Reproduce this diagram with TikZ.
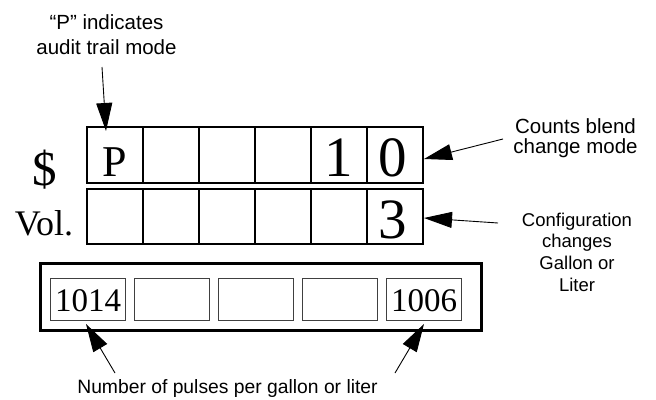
\documentclass[tikz,border=0pt]{standalone}
\usepackage{fontspec}
\setmainfont{Liberation Serif}
\newfontfamily\labelfont{Liberation Sans}
\usetikzlibrary{calc, arrows.meta}
\tikzset{
  cell/.style={draw, line width=1.2pt, minimum width=56pt, minimum height=56pt, inner sep=0pt},
  pulsebox/.style={draw=black!75, line width=0.8pt, minimum width=74.5pt, minimum height=42pt, inner sep=0pt},
  digit/.style={anchor=base, inner sep=0pt, font=\fontsize{#1}{#1}\selectfont},
  note/.style 2 args={font=\labelfont\fontsize{#1}{#2}\selectfont, align=center, inner sep=0pt},
  pointer/.style={-{Triangle[length=28pt,width=16pt]}, line width=0.9pt},
}

\begin{document}
\begin{tikzpicture}[x=1pt,y=-1pt]
            \useasboundingbox (0,0) rectangle (656,399);
            % display rows
            \node[cell] (c11) at (115,155) {};
            \node[cell] (c12) at (171,155) {};
            \node[cell] (c13) at (227,155) {};
            \node[cell] (c14) at (283,155) {};
            \node[cell] (c15) at (339,155) {};
            \node[cell] (c16) at (395,155) {};
            \node[cell, minimum height=55pt] (c21) at (115,216.5) {};
            \node[cell, minimum height=55pt] (c22) at (171,216.5) {};
            \node[cell, minimum height=55pt] (c23) at (227,216.5) {};
            \node[cell, minimum height=55pt] (c24) at (283,216.5) {};
            \node[cell, minimum height=55pt] (c25) at (339,216.5) {};
            \node[cell, minimum height=55pt] (c26) at (395,216.5) {};
            \node[digit=49] (dollar) at (45,185) {\$};
            \node[digit=36] (vol) at (44,235) {Vol.};
            \node[digit=44] (pchar) at (115,176) {P};
            \node[digit=57] (one) at (339,176.5) {1};
            \node[digit=57] (zero) at (393,176.5) {0};
            \node[digit=57] (three) at (393,238) {3};

            % pulse counter
            \node[draw, line width=3pt, minimum width=441pt, minimum height=67pt] (frame) at (260.5,296.5) {};
            \node[pulsebox] (p1) at (88,299) {};
            \node[pulsebox] (p2) at (172,299) {};
            \node[pulsebox] (p3) at (256,299) {};
            \node[pulsebox] (p4) at (340,299) {};
            \node[pulsebox] (p5) at (424,299) {};
            \node[digit=33] (lpulse) at (88,311) {1014};
            \node[digit=33] (rpulse) at (424,311) {1006};

            % notes
            \node[note={20.5}{25}, anchor=north] (audit) at (106.5,14) {“P” indicates\\audit trail mode};
            \node[note={20.5}{20.5}, anchor=north] (blend) at (575.5,118) {Counts blend\\change mode};
            \node[note={18.5}{21.7}, anchor=north] (config) at (577,212.5) {Configuration\\changes\\Gallon or\\Liter};
            \node[note={19.3}{19.3}, anchor=base] (pulses) at (227.5,393) {Number of pulses per gallon or liter};

            \coordinate (audittail) at (102,67);
            \coordinate (audittip) at (106,131);
            \coordinate (blendtail) at (503,139);
            \coordinate (blendtip) at (424,159);
            \coordinate (configtail) at (498,223);
            \coordinate (configtip) at (424,218);
            \coordinate (ltail) at (115,373);
            \coordinate (ltip) at (86,324);
            \coordinate (rtail) at (395,373);
            \coordinate (rtip) at (424,324);
            \draw[pointer] (audittail)--(audittip);
            \draw[pointer] (blendtail)--(blendtip);
            \draw[pointer] (configtail)--(configtip);
            \draw[pointer] (ltail)--(ltip);
            \draw[pointer] (rtail)--(rtip);
\end{tikzpicture}
\end{document}
